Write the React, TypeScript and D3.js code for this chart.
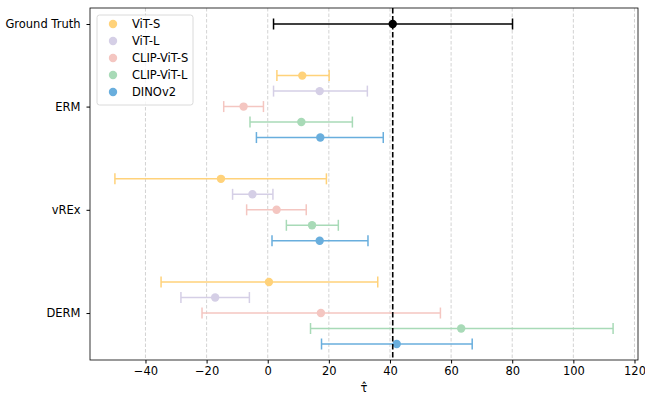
import React, { useEffect, useRef } from "react";
import * as d3 from "d3";

// methods (y axis groups) and models (one errorbar per model per method)
const methods = ["ERM", "vREx", "DERM"];
const models = ["ViT-S", "ViT-L", "CLIP-ViT-S", "CLIP-ViT-L", "DINOv2"];
const colors = ["#ffd27a", "#d5cfe6", "#f4c6c1", "#a8dab7", "#69aedd"];

// point estimates, [method][model]
const estimates = [
    [11.3, 17.0, -7.9, 11.0, 17.2],
    [-15.3, -5.0, 2.9, 14.5, 17.0],
    [0.4, -17.2, 17.4, 63.3, 42.2],
];
const lowers = [
    [3.0, 1.9, -14.4, -5.8, -3.7],
    [-50.0, -11.5, -6.9, 6.1, 1.4],
    [-34.9, -28.4, -21.5, 14.0, 17.6],
];
const uppers = [
    [20.1, 32.6, -1.4, 27.7, 37.8],
    [19.2, 1.7, 12.6, 23.1, 32.8],
    [36.0, -6.0, 56.5, 113.0, 66.9],
];

// ground truth
const truthEstimate = 40.9;
const truthLower = 1.9;
const truthUpper = 80.1;

const xTicks = [-40, -20, 0, 20, 40, 60, 80, 100, 120];

const App = () => {
    const chartRef = useRef(null);

    useEffect(() => {
        d3.select(chartRef.current).select("svg").remove();

        const W = 645;
        const H = 397;
        const margin = { top: 8, right: 7, bottom: 37, left: 90 };
        const font = "DejaVu Sans, sans-serif";
        const fs = "11.5px";

        const svg = d3
            .select(chartRef.current)
            .append("svg")
            .attr("width", W)
            .attr("height", H)
            .style("position", "absolute")
            .style("left", 0)
            .style("top", 0)
            .style("font-family", font);

        // x domain like matplotlib autoscale (5% margins)
        const allVals = [...lowers.flat(), ...uppers.flat(), truthLower, truthUpper];
        const xmin = d3.min(allVals);
        const xmax = d3.max(allVals);
        const pad = (xmax - xmin) * 0.05;
        const x = d3
            .scaleLinear()
            .domain([xmin - pad, xmax + pad])
            .range([margin.left, W - margin.right]);

        // y positions: methods at integers, ground truth above
        const methodPos = [2, 1, 0];
        const truthPos = 2.8;
        const offset = 0.15;
        const modelOffset = (j) => (2 - j) * offset;
        const ylo = -2 * offset;
        const yhi = truthPos;
        const ypad = (yhi - ylo) * 0.05;
        const y = d3
            .scaleLinear()
            .domain([ylo - ypad, yhi + ypad])
            .range([H - margin.bottom, margin.top]);

        // grid
        svg.append("g")
            .selectAll("line")
            .data(xTicks)
            .enter()
            .append("line")
            .attr("x1", (d) => x(d))
            .attr("x2", (d) => x(d))
            .attr("y1", margin.top)
            .attr("y2", H - margin.bottom)
            .attr("stroke", "#c8c8c8")
            .attr("stroke-width", 0.8)
            .attr("stroke-dasharray", "3.5,2");

        // errorbar helper
        const capH = 5.5;
        const drawBar = (g, est, lo, hi, yy, color) => {
            g.append("line")
                .attr("x1", x(lo)).attr("x2", x(hi))
                .attr("y1", yy).attr("y2", yy)
                .attr("stroke", color).attr("stroke-width", 1.5);
            [lo, hi].forEach((v) => {
                g.append("line")
                    .attr("x1", x(v)).attr("x2", x(v))
                    .attr("y1", yy - capH).attr("y2", yy + capH)
                    .attr("stroke", color).attr("stroke-width", 1.5);
            });
            g.append("circle")
                .attr("cx", x(est)).attr("cy", yy)
                .attr("r", 4.2)
                .attr("fill", color);
        };

        const bars = svg.append("g");
        methods.forEach((m, i) => {
            models.forEach((md, j) => {
                drawBar(
                    bars,
                    estimates[i][j],
                    lowers[i][j],
                    uppers[i][j],
                    y(methodPos[i] + modelOffset(j)),
                    colors[j]
                );
            });
        });
        drawBar(bars, truthEstimate, truthLower, truthUpper, y(truthPos), "#000");

        // ground truth vertical dashed line
        svg.append("line")
            .attr("x1", x(truthEstimate)).attr("x2", x(truthEstimate))
            .attr("y1", margin.top).attr("y2", H - margin.bottom)
            .attr("stroke", "#000")
            .attr("stroke-width", 1.6)
            .attr("stroke-dasharray", "5.5,2.5");

        // frame
        svg.append("rect")
            .attr("x", margin.left)
            .attr("y", margin.top)
            .attr("width", W - margin.left - margin.right)
            .attr("height", H - margin.top - margin.bottom)
            .attr("fill", "none")
            .attr("stroke", "#000")
            .attr("stroke-width", 0.8);

        // x axis
        const xAxis = svg.append("g")
            .attr("transform", `translate(0,${H - margin.bottom})`)
            .call(
                d3.axisBottom(x)
                    .tickValues(xTicks)
                    .tickSize(3.5)
                    .tickPadding(3.5)
                    .tickFormat((d) => (d < 0 ? `\u2212${-d}` : `${d}`))
            );
        xAxis.select(".domain").remove();
        xAxis.selectAll("text").style("font-size", fs).style("font-family", font).attr("fill", "#000");

        // y axis
        const yLabels = ["Ground Truth", ...methods];
        const yVals = [truthPos, ...methodPos];
        const yAxis = svg.append("g")
            .attr("transform", `translate(${margin.left},0)`)
            .call(
                d3.axisLeft(y)
                    .tickValues(yVals)
                    .tickSize(3.5)
                    .tickPadding(6)
                    .tickFormat((d) => yLabels[yVals.indexOf(d)])
            );
        yAxis.select(".domain").remove();
        yAxis.selectAll("text").style("font-size", fs).style("font-family", font).attr("fill", "#000");

        // x label
        svg.append("text")
            .attr("x", (margin.left + W - margin.right) / 2)
            .attr("y", H - 5)
            .attr("text-anchor", "middle")
            .style("font-size", fs)
            .text("\u03c4\u0302");

        // legend
        const legend = svg.append("g").attr("transform", "translate(97,15)");
        legend.append("rect")
            .attr("width", 96)
            .attr("height", 90)
            .attr("rx", 2.5)
            .attr("fill", "#fff")
            .attr("fill-opacity", 0.8)
            .attr("stroke", "#d0d0d0")
            .attr("stroke-width", 0.8);
        models.forEach((md, j) => {
            const ly = 9 + j * 17;
            legend.append("circle")
                .attr("cx", 16)
                .attr("cy", ly)
                .attr("r", 4.2)
                .attr("fill", colors[j]);
            legend.append("text")
                .attr("x", 35)
                .attr("y", ly)
                .attr("dy", "0.35em")
                .style("font-size", fs)
                .text(md);
        });
    }, []);

    return <div ref={chartRef}></div>;
};

export default App;
